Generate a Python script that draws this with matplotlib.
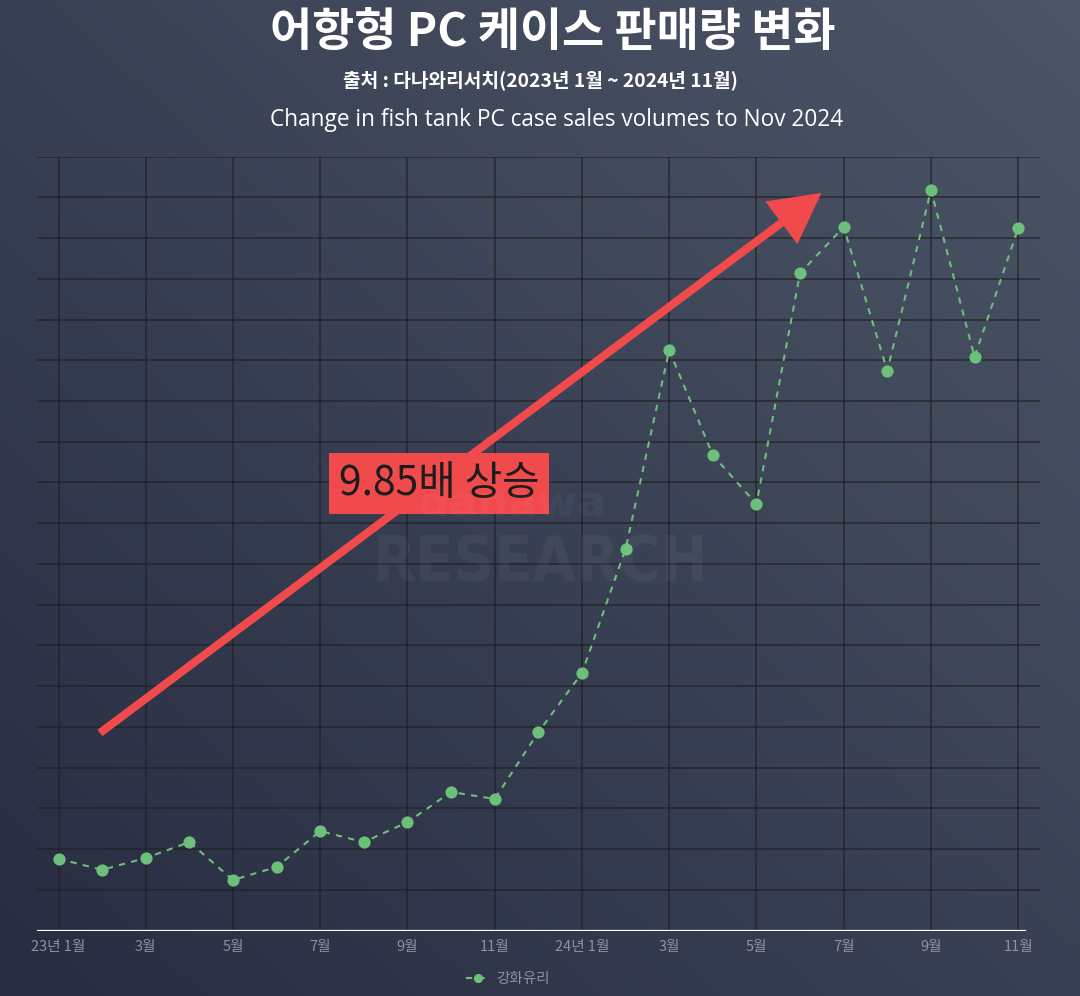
import numpy as np
import matplotlib
matplotlib.use("Agg")
import matplotlib.pyplot as plt
from matplotlib.colors import to_rgb

plt.rcParams['font.family'] = ['Noto Sans CJK KR', 'DejaVu Sans']

# ---------------- data ----------------
months = ['23년 1월', '2월', '3월', '4월', '5월', '6월', '7월', '8월', '9월', '10월', '11월', '12월',
          '24년 1월', '2월', '3월', '4월', '5월', '6월', '7월', '8월', '9월', '10월', '11월']
sales = [1.76, 1.49, 1.78, 2.17, 1.24, 1.56, 2.44, 2.17, 2.66, 3.40, 3.23, 4.87,
         6.32, 9.37, 14.25, 11.67, 10.47, 16.14, 17.27, 13.74, 18.18, 14.08, 17.24]
series_name = '강화유리'
tick_idx = list(range(0, 23, 2))
tick_labels = [months[i] for i in tick_idx]

title = '어항형 PC 케이스 판매량 변화'
subtitle = '출처 : 다나와리서치(2023년 1월 ~ 2024년 11월)'
subtitle2 = 'Change in fish tank PC case sales volumes to Nov 2024'
callout = '9.85배 상승'

W, H = 1080, 996
fig = plt.figure(figsize=(W / 100, H / 100), dpi=100)

# background gradient
bg = fig.add_axes([0, 0, 1, 1], zorder=-10)
c0 = np.array(to_rgb('#282c41'))
c1 = np.array(to_rgb('#4c5667'))
u = np.linspace(0, 1, 400)[None, :]
v = np.linspace(1, 0, 400)[:, None]
t = np.clip(0.5 * (u + v), 0, 1)
img = c0[None, None, :] * (1 - t[..., None]) + c1[None, None, :] * t[..., None]
bg.imshow(img, aspect='auto', extent=[0, 1, 0, 1])
bg.set_axis_off()

# watermark
fig.text(541 / W, 1 - 564 / H, 'RESEARCH', ha='center', va='center', fontsize=45,
         fontweight='bold', fontstretch='condensed', color='white', alpha=0.045,
         family=['DejaVu Sans'])
fig.text(512 / W, 1 - 503 / H, 'danawa', ha='center', va='center', fontsize=31,
         fontweight='bold', color='white', alpha=0.035, family=['DejaVu Sans'])

# main axes
left, right = 36.7 / W, 1040 / W
bottom, top = (H - 930.5) / H, (H - 156.6) / H
ax = fig.add_axes([left, bottom, right - left, top - bottom])
ax.set_facecolor('none')
ax.set_xlim(-0.5, 22.5)
ax.set_ylim(0, 19)
for s in ax.spines.values():
    s.set_visible(False)

ax.set_yticks(np.arange(1, 20))
ax.set_yticklabels([])
ax.set_xticks(tick_idx)
ax.set_xticklabels(tick_labels, color='#8d929c', fontsize=10.5)
ax.tick_params(axis='both', length=0)
ax.tick_params(axis='x', pad=7)
ax.grid(True, color='#1f1f22', alpha=0.75, linewidth=1.1)
ax.set_axisbelow(True)
ax.axhline(0, xmin=0, xmax=(1025 - 36.7) / (1040 - 36.7), color='white', linewidth=1.6, zorder=3)

# data line
ax.plot(range(len(sales)), sales, color='#6cc07a', linestyle=(0, (3, 3)), linewidth=1.5,
        marker='o', markersize=8.8, markeredgewidth=0, zorder=4, label=series_name)

# arrow annotation
ax.annotate('', xy=(17.49, 18.11), xytext=(0.95, 4.85), xycoords='data',
            arrowprops=dict(arrowstyle='-|>,head_length=1.35,head_width=0.72',
                            mutation_scale=20, color='#f04a4c', linewidth=5.8,
                            shrinkA=0, shrinkB=0, capstyle='butt', joinstyle='miter'),
            zorder=5)
ax.text(8.72, 10.98, callout, ha='center', va='center', fontsize=29.3, color='#1c1c1c', zorder=6,
        bbox=dict(boxstyle='square,pad=0.24', facecolor='#f04a4c', edgecolor='none'))

# titles
fig.text(553 / W, 1 - 33 / H, title, ha='center', va='center', fontsize=33, color='white',
         fontweight='bold')
fig.text(540 / W, 1 - 80 / H, subtitle, ha='center', va='center', fontsize=13.8, color='white',
         fontweight='bold')
fig.text(557 / W, 1 - 120 / H, subtitle2, ha='center', va='center', fontsize=16.3, color='white',
         family=['Open Sans', 'DejaVu Sans'])

# legend
leg = fig.legend(loc='center', bbox_to_anchor=(508 / W, 1 - 979 / H), frameon=False,
                 fontsize=10.5, handlelength=1.6, handletextpad=0.5, markerscale=0.75)
for txt in leg.get_texts():
    txt.set_color('#8d929c')

fig.savefig('out.png', dpi=100)
